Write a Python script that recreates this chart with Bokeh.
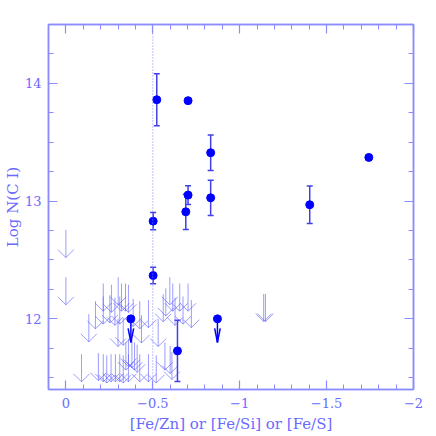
import numpy as np
from bokeh.plotting import figure
from bokeh.models import (Range1d, FixedTicker, CustomJSTickFormatter, LinearAxis,
                          Span, Whisker, TeeHead, ColumnDataSource)
from bokeh.embed import file_html
from bokeh.resources import INLINE

# detections: [Fe/X], log N(C I), error
det_x = [-0.523, -0.703, -0.833, -1.743, -0.703, -0.690, -0.833, -1.403, -0.502, -0.502, -0.642]
det_y = [13.861, 13.853, 13.411, 13.371, 13.051, 12.909, 13.028, 12.969, 12.830, 12.368, 11.728]
det_err = [0.22, 0.0, 0.15, 0.02, 0.08, 0.15, 0.15, 0.16, 0.074, 0.07, 0.26]

# detections shown as upper limits (filled point + arrow)
lpt_x = [-0.374, -0.872]
lpt_y = [12.0, 12.0]

# upper limits (open arrows)
ul_x = [0.0, 0.0, -1.138, -1.148,
        -0.215, -0.262, -0.301, -0.320, -0.343, -0.360,
        -0.598, -0.655, -0.703, -0.575, -0.615,
        -0.170, -0.215, -0.253, -0.282, -0.310, -0.387, -0.425, -0.475,
        -0.560, -0.628, -0.674, -0.722,
        -0.132, -0.300, -0.330, -0.435, -0.531,
        -0.345, -0.360, -0.380, -0.395, -0.410, -0.570, -0.600,
        -0.090, -0.187, -0.215, -0.235, -0.260, -0.285, -0.310, -0.330,
        -0.360, -0.425, -0.475, -0.520, -0.610]
ul_y = [12.756, 12.354, 12.212, 12.212,
        12.30, 12.29, 12.354, 12.30, 12.30, 12.29,
        12.354, 12.30, 12.30, 12.26, 12.30,
        12.15, 12.19, 12.20, 12.18, 12.19, 12.17, 12.15, 12.16,
        12.21, 12.18, 12.19, 12.16,
        12.04, 12.00, 12.01, 12.03, 12.00,
        11.80, 11.83, 11.82, 11.80, 11.78, 11.80, 11.77,
        11.70, 11.71, 11.70, 11.69, 11.70, 11.70, 11.70, 11.69,
        11.70, 11.70, 11.70, 11.69, 11.72]

x_ticks = [0, -0.5, -1, -1.5, -2]
y_ticks = [12, 13, 14]

AX = "#8c8cff"
TXT = "#6a6aff"
ARR = "#5a5aff"
FONT = "DejaVu Serif"

p = figure(width=436, height=436, x_range=Range1d(0.1, -2), y_range=Range1d(11.4, 14.5),
           output_backend="svg", toolbar_location=None,
           min_border_left=47, min_border_right=23, min_border_top=24, min_border_bottom=47,
           x_axis_label="[Fe/Zn] or [Fe/Si] or [Fe/S]", y_axis_label="Log N(C I)")
p.grid.visible = False
p.outline_line_color = AX
p.outline_line_width = 1.5

xminor = [round(v, 1) for v in np.arange(0.1, -2.01, -0.1)]
yminor = [round(v, 2) for v in np.arange(11.5, 14.51, 0.25)]
fmt = CustomJSTickFormatter(code="return (Math.abs(tick) < 1e-9) ? '0' : tick.toString().replace('-', '\u2212');")
blank = CustomJSTickFormatter(code="return '';")

def style(ax, ticks, minor, labels=True):
    ax.ticker = FixedTicker(ticks=ticks, minor_ticks=minor)
    ax.major_tick_in = 9
    ax.major_tick_out = 0
    ax.minor_tick_in = 5
    ax.minor_tick_out = 0
    ax.axis_line_color = AX
    ax.axis_line_width = 1.5
    ax.major_tick_line_color = AX
    ax.minor_tick_line_color = AX
    ax.major_tick_line_width = 1.2
    ax.minor_tick_line_width = 1.0
    if labels:
        ax.formatter = fmt
        ax.major_label_text_font = FONT
        ax.major_label_text_font_size = "13px"
        ax.major_label_text_color = TXT
        ax.axis_label_text_font = FONT
        ax.axis_label_text_font_size = "15px"
        ax.axis_label_text_font_style = "normal"
        ax.axis_label_text_color = TXT
    else:
        ax.formatter = blank
        ax.major_label_standoff = 0

style(p.xaxis[0], x_ticks, xminor)
style(p.yaxis[0], y_ticks, yminor)
p.xaxis[0].major_label_standoff = 8
p.xaxis[0].axis_label_standoff = 4
p.yaxis[0].major_label_standoff = 7
p.yaxis[0].axis_label_standoff = 0

top = LinearAxis()
style(top, x_ticks, xminor, labels=False)
p.add_layout(top, "above")
right = LinearAxis()
style(right, y_ticks, yminor, labels=False)
p.add_layout(right, "right")

# dotted reference line
p.add_layout(Span(location=-0.5, dimension="height", line_color="#8888ff",
                  line_dash="1 2", line_width=1))

# open upper-limit arrows
L = 0.235
hw = 0.046
hh = 0.068
ux = np.array(ul_x)
uy = np.array(ul_y)
tip = uy - L
p.segment(ux, uy, ux, tip, line_color=ARR, line_alpha=0.6, line_width=1)
p.segment(ux - hw, tip + hh, ux, tip, line_color=ARR, line_alpha=0.6, line_width=1)
p.segment(ux + hw, tip + hh, ux, tip, line_color=ARR, line_alpha=0.6, line_width=1)

# error bars
dx = np.array(det_x)
dy = np.array(det_y)
de = np.array(det_err)
src = ColumnDataSource(dict(x=dx, y=dy, lo=dy - de, hi=dy + de))
p.add_layout(Whisker(source=src, base="x", upper="hi", lower="lo", dimension="height",
                     line_color="#4040e8", line_width=1.5,
                     upper_head=TeeHead(size=6, line_color="#4040e8", line_width=1.5),
                     lower_head=TeeHead(size=6, line_color="#4040e8", line_width=1.5)))
p.scatter(dx, dy, size=8, color="#0000ff")

# filled points with downward arrows
lx = np.array(lpt_x)
ly = np.array(lpt_y)
ltip = ly - 0.20
p.segment(lx, ly, lx, ltip, line_color="#0000ff", line_width=1.5)
p.segment(lx - 0.016, ltip + 0.12, lx, ltip, line_color="#0000ff", line_width=1.5)
p.segment(lx + 0.016, ltip + 0.12, lx, ltip, line_color="#0000ff", line_width=1.5)
p.scatter(lx, ly, size=8, color="#0000ff")

open("out.html", "w").write(file_html(p, INLINE))
